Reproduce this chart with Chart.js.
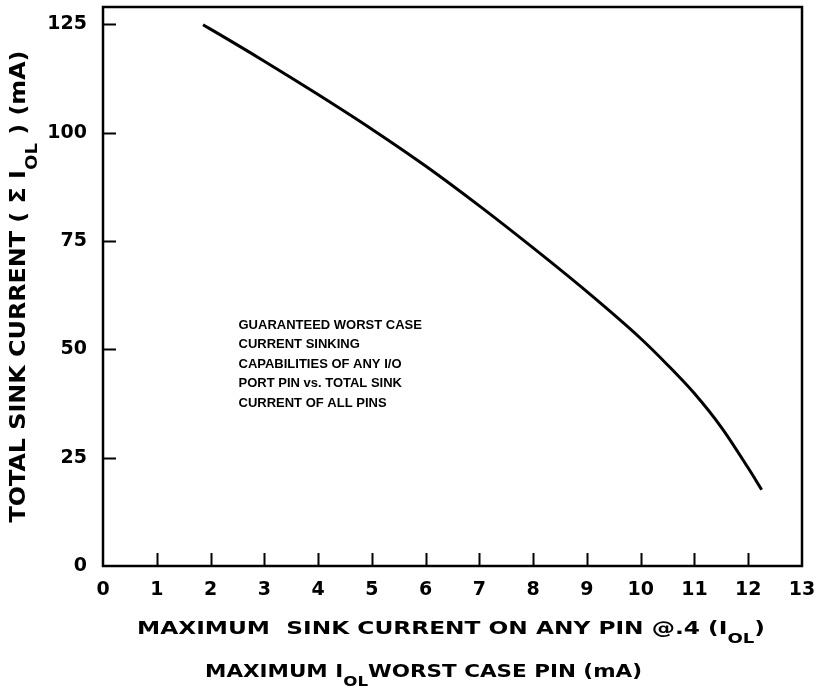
<!DOCTYPE html>
<html>
<head>
<meta charset="utf-8">
<script src="https://cdn.jsdelivr.net/npm/chart.js@4/dist/chart.umd.min.js"></script>
<style>
  html, body { margin: 0; padding: 0; background: #fff; }
  #wrap { width: 816px; height: 691px; position: relative; }
</style>
</head>
<body>
<div id="wrap"><canvas id="c" width="816" height="691"></canvas></div>
<script>
// ---- data ----
const sinkPerPin = [1.86, 2, 3, 4, 5, 6, 7, 8, 9, 10, 10.5, 11, 11.5, 12, 12.25];      // mA (x)
const totalSink  = [124.9, 123.9, 116.5, 108.8, 100.8, 92.3, 83.1, 73.4, 63.3, 52.5, 46.4, 39.8, 32.0, 22.6, 17.6]; // mA (y)
const xTickValues = [0, 1, 2, 3, 4, 5, 6, 7, 8, 9, 10, 11, 12, 13];
const yTickValues = [0, 25, 50, 75, 100, 125];
const noteLines = [
  "GUARANTEED WORST CASE",
  "CURRENT SINKING",
  "CAPABILITIES OF ANY I/O",
  "PORT PIN vs. TOTAL SINK",
  "CURRENT OF ALL PINS"
];
const noteAnchor = { x: 2.52, y: 55.6 };
const xTitle1 = [["MAXIMUM  SINK CURRENT ON ANY PIN @.4 (I", false], ["OL", true], [")", false]];
const xTitle2 = [["MAXIMUM I", false], ["OL", true], ["WORST CASE PIN (mA)", false]];
const yTitle  = [["TOTAL SINK CURRENT ( \u03A3 I", false], ["OL", true], [" ) (mA)", false]];

const points = sinkPerPin.map((v, i) => ({ x: v, y: totalSink[i] }));
const FONT = "'DejaVu Sans', sans-serif";

function partFont(size, sub) {
  return "bold " + (sub ? Math.round(size * 0.78) : size) + "px " + FONT;
}
function richWidth(ctx, parts, size) {
  let w = 0;
  for (const [t, sub] of parts) { ctx.font = partFont(size, sub); w += ctx.measureText(t).width; }
  return w;
}
// draws rich text centred on (cx, cy), stretched horizontally to span `width`
function drawRich(ctx, parts, cx, cy, size, width) {
  const w = richWidth(ctx, parts, size);
  const sx = width / w;
  ctx.save();
  ctx.translate(cx, cy);
  ctx.scale(sx, 1);
  let x = -w / 2;
  ctx.textAlign = "left";
  ctx.textBaseline = "middle";
  for (const [t, sub] of parts) {
    ctx.font = partFont(size, sub);
    ctx.fillText(t, x, sub ? size * 0.6 : 0);
    x += ctx.measureText(t).width;
  }
  ctx.restore();
}

const framePlugin = {
  id: "frame",
  afterDraw(chart) {
    const { ctx, chartArea: a, scales: { x, y } } = chart;
    ctx.save();
    ctx.strokeStyle = "#000";
    ctx.fillStyle = "#000";
    ctx.lineWidth = 2.5;
    ctx.strokeRect(a.left, a.top, a.right - a.left, a.bottom - a.top);
    ctx.lineWidth = 2;
    ctx.beginPath();
    for (const v of xTickValues) {
      if (v <= x.min || v >= x.max) continue;
      const px = Math.round(x.getPixelForValue(v)) + 0.5;
      ctx.moveTo(px, a.bottom);
      ctx.lineTo(px, a.bottom - 13);
    }
    for (const v of yTickValues) {
      if (v <= y.min || v >= y.max) continue;
      const py = Math.round(y.getPixelForValue(v)) + 0.5;
      ctx.moveTo(a.left, py);
      ctx.lineTo(a.left + 13, py);
    }
    ctx.stroke();

    // note text
    ctx.font = "bold 13px 'Liberation Sans', sans-serif";
    ctx.textAlign = "left";
    ctx.textBaseline = "middle";
    const nx = x.getPixelForValue(noteAnchor.x);
    const ny = y.getPixelForValue(noteAnchor.y);
    noteLines.forEach((t, i) => ctx.fillText(t, nx, ny + i * 19.5));

    // axis titles
    drawRich(ctx, xTitle1, 451, 629, 18, 628);
    drawRich(ctx, xTitle2, 423.5, 672, 18, 437);
    ctx.save();
    ctx.translate(20, (a.top + a.bottom) / 2);
    ctx.rotate(-Math.PI / 2);
    drawRich(ctx, yTitle, 0, 0, 21, 472);
    ctx.restore();
    ctx.restore();
  }
};

new Chart(document.getElementById("c"), {
  type: "scatter",
  data: {
    datasets: [{
      data: points,
      showLine: true,
      borderColor: "#000",
      borderWidth: 3,
      pointRadius: 0,
      cubicInterpolationMode: "monotone",
      fill: false
    }]
  },
  options: {
    responsive: false,
    animation: false,
    events: [],
    layout: { padding: { left: 0, top: 7, right: 14, bottom: 0 } },
    plugins: { legend: { display: false }, tooltip: { enabled: false }, title: { display: false } },
    scales: {
      x: {
        type: "linear",
        min: 0, max: 13,
        afterBuildTicks: s => { s.ticks = xTickValues.map(v => ({ value: v })); },
        afterFit: s => { s.height = 125; s.paddingLeft = 0; s.paddingRight = 0; },
        grid: { display: false, drawTicks: false },
        border: { display: false },
        ticks: { color: "#000", padding: 13, font: { family: FONT, size: 19, weight: "bold" }, maxRotation: 0, autoSkip: false }
      },
      y: {
        type: "linear",
        min: 0, max: 129,
        afterBuildTicks: s => { s.ticks = yTickValues.map(v => ({ value: v })); },
        afterFit: s => { s.width = 103; s.paddingTop = 0; s.paddingBottom = 0; },
        grid: { display: false, drawTicks: false },
        border: { display: false },
        ticks: { color: "#000", padding: 16, font: { family: FONT, size: 19, weight: "bold" }, autoSkip: false }
      }
    }
  },
  plugins: [framePlugin]
});
</script>
</body>
</html>
